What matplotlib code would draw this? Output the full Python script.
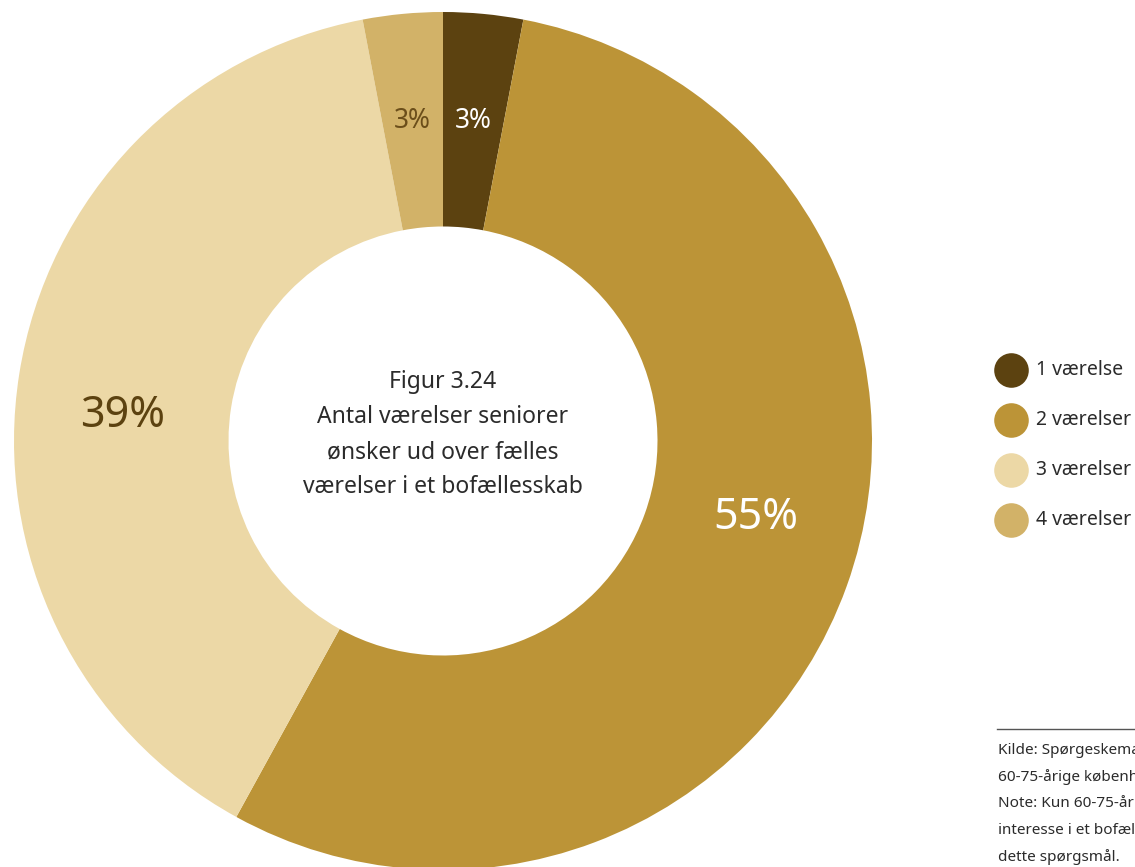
import matplotlib
matplotlib.use("Agg")
import matplotlib.pyplot as plt
import numpy as np

plt.rcParams['font.family'] = ['Noto Sans', 'DejaVu Sans']

labels = ["1 værelse", "2 værelser", "3 værelser", "4 værelser"]
values = [3, 55, 39, 3]
colors = ["#5c4210", "#bc9437", "#ecd8a6", "#d2b268"]
pct_colors = ["white", "white", "#5c4210", "#6b4e1a"]
pct_sizes = [19, 31, 31, 19]
label_shift = [0, 6, 4.5, 0]  # degrees, nudges the big labels like the original
center_title = "Figur 3.24\nAntal værelser seniorer\nønsker ud over fælles\nværelser i et bofællesskab"
note_lines = [
    "Kilde: Spørgeskemaundersøgelse blandt",
    "60-75-årige københavnere",
    "Note: Kun 60-75-årige med",
    "interesse i et bofællesskab har svaret på",
    "dette spørgsmål.",
]

W, H = 1135, 867
fig = plt.figure(figsize=(W / 100, H / 100), dpi=100)

# donut: centre (443, 441) px, radius 429 px
cx, cy, r = 443, 441, 429
ax = fig.add_axes([(cx - r) / W, (H - cy - r) / H, 2 * r / W, 2 * r / H])
wedges, texts, autotexts = ax.pie(
    values, colors=colors, startangle=90, counterclock=False,
    radius=1, wedgeprops=dict(width=0.5, linewidth=0),
    autopct=lambda p: f"{p:.0f}%", pctdistance=0.75,
)
for w, t, c, s, d in zip(wedges, autotexts, pct_colors, pct_sizes, label_shift):
    ang = np.deg2rad((w.theta1 + w.theta2) / 2 + d)
    t.set_position((0.75 * np.cos(ang), 0.75 * np.sin(ang)))
    t.set_color(c)
    t.set_fontsize(s)
ax.set_xlim(-1, 1)
ax.set_ylim(-1, 1)
ax.set_aspect("equal")
ax.axis("off")

ax.text(0, 0.015, center_title, ha="center", va="center", fontsize=16.5,
        color="#2b2b2b", linespacing=1.6)

# legend
lax = fig.add_axes([990 / W, (H - 545) / H, (W - 990) / W, 200 / H])
lax.set_xlim(0, 145)
lax.set_ylim(3.5, -0.5)
lax.axis("off")
for i, (lab, col) in enumerate(zip(labels, colors)):
    lax.scatter([21], [i], s=620, color=col, linewidths=0)
    lax.text(46, i, lab, va="center", ha="left", fontsize=14, color="#2b2b2b",
             clip_on=False)

# source note
fig.add_artist(plt.Line2D([997 / W, 1], [(H - 729) / H] * 2, color="#555555", linewidth=1))
for i, line in enumerate(note_lines):
    fig.text(998 / W, (H - 750 - i * 26.7) / H, line, ha="left", va="center",
             fontsize=11, color="#2b2b2b")

fig.savefig("out.png", dpi=100)
